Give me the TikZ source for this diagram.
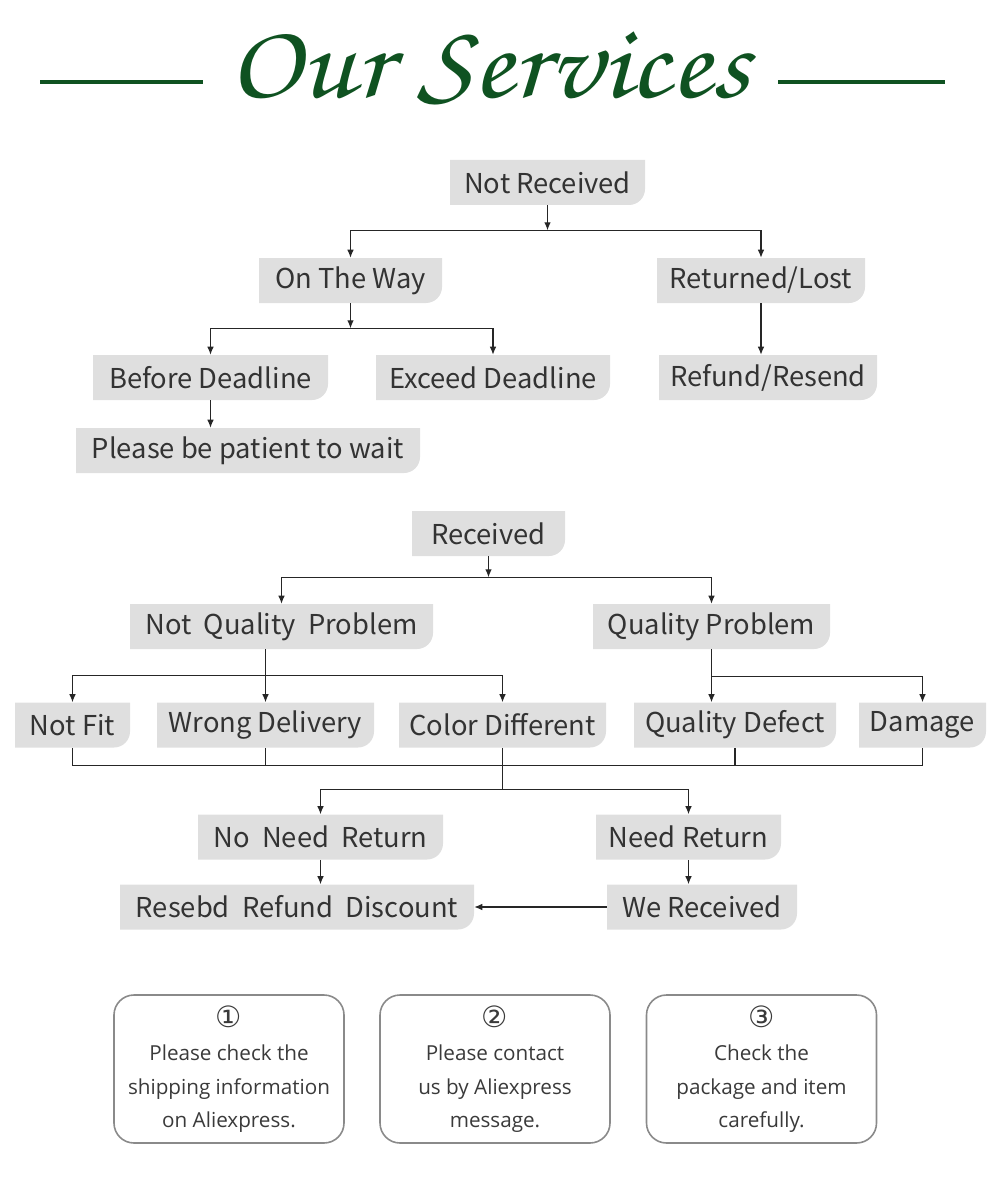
\documentclass[tikz,border=0pt]{standalone}
\usepackage[T1]{fontenc}
\usepackage{fontspec}
\usepackage{graphicx}
\usepackage{tikz}
\usetikzlibrary{arrows.meta,positioning}
\newfontfamily\boxfont{Noto Sans CJK SC}
\newfontfamily\notefont{Open Sans}
\newfontfamily\circfont{DejaVu Sans}
\newcommand\titlefont{\fontencoding{T1}\fontfamily{pzc}\fontseries{mb}\fontshape{it}\selectfont}
\definecolor{boxgray}{HTML}{DFDFDF}
\definecolor{textgray}{HTML}{333333}
\definecolor{notegray}{HTML}{3A3A3A}
\definecolor{titlegreen}{HTML}{0F5221}
\definecolor{framegray}{HTML}{8A8A8A}
\tikzset{
  leaf/.style = {minimum height=33.75pt, inner sep=0pt, text=textgray,
    font=\boxfont\fontsize{20.5}{24}\selectfont,
    path picture={\fill[boxgray] (path picture bounding box.north west)
      -| ([yshift=12pt]path picture bounding box.south east)
      arc[start angle=0, end angle=-90, radius=12pt]
      -- (path picture bounding box.south west) -- cycle;}},
  bw/.style   = {minimum width=#1*0.75pt},
  note/.style = {draw=framegray, line width=1.2pt, rounded corners=15pt,
    minimum width=172.5pt, minimum height=111pt, align=center, text=notegray,
    font=\notefont\fontsize{15.5}{25}\selectfont},
  link/.style = {line width=0.9pt, draw=black!85},
  tip/.style  = {link, -{Latex[length=6pt,width=5pt]}}
}
\begin{document}
\begin{tikzpicture}[x=0.75pt,y=-0.75pt]
    \useasboundingbox (0,0) rectangle (1000,1191);

    % title with the two green rules
    \node[anchor=base, text=titlegreen, font=\titlefont\fontsize{80}{80}\selectfont] (title) at (489,98) {\scalebox{1.12}[1]{Our Services}};
    \draw[titlegreen, line width=3pt] (40,82) -- (203,82) (778,82) -- (945,82);

    % not received, upper tree
    \node[leaf, bw=195] (nr)  at (547.5,182.5) {Not Received};
    \node[leaf, bw=183] (otw) at (350.5,280.5) {On The Way};
    \node[leaf, bw=208] (rl)  at (761,280.5)   {Returned/Lost};
    \node[leaf, bw=235] (bd)  at (210.5,377.5) {Before Deadline};
    \node[leaf, bw=234] (ed)  at (493,377.5)   {Exceed Deadline};
    \node[leaf, bw=218] (rr)  at (768,377.5)   {Refund/Resend};
    \node[leaf, bw=344] (pw)  at (248,450.5)   {Please be patient to wait};

    \draw[tip] (nr.south) -- ++(0,25) coordinate (j1);
    \draw[tip] (j1) -| (otw.north);
    \draw[tip] (j1) -| (rl.north);
    \draw[tip] (otw.south) -- ++(0,25) coordinate (j2);
    \draw[tip] (j2) -| (bd.north);
    \draw[tip] (j2) -| (ed.north);
    \draw[tip] (rl.south) -- (rl.south |- rr.north);
    \draw[tip] (bd.south) -- (bd.south |- pw.north);

    % received, lower tree
    \node[leaf, bw=153] (rc)  at (488.5,533.5) {Received};
    \node[leaf, bw=303] (nqp) at (281.5,626.5) {Not~ Quality~ Problem};
    \node[leaf, bw=237] (qp)  at (711.5,626.5) {Quality Problem};
    \node[leaf, bw=115] (nf)  at (72.5,725)    {Not Fit};
    \node[leaf, bw=217] (wd)  at (265.5,725)   {Wrong Delivery};
    \node[leaf, bw=207] (cd)  at (502.5,725)   {Color Different};
    \node[leaf, bw=202] (qd)  at (735,725)     {Quality Defect};
    \node[leaf, bw=127] (dm)  at (922.5,725)   {Damage};
    \node[leaf, bw=245] (nnr) at (320.5,837)   {No~ Need~ Return};
    \node[leaf, bw=185] (ndr) at (688.5,837)   {Need Return};
    \node[leaf, bw=354] (rrd) at (297,907)     {Resebd~ Refund~ Discount};
    \node[leaf, bw=190] (wr)  at (702,907)     {We Received};

    \draw[tip] (rc.south) -- ++(0,21) coordinate (j3);
    \draw[tip] (j3) -| (nqp.north);
    \draw[tip] (j3) -| (qp.north);

    \draw[tip] (wd.north |- nqp.south) -- (wd.north);
    \path (wd.north) ++(0,-27) coordinate (j4);
    \draw[tip] (j4) -| (nf.north);
    \draw[tip] (j4) -| (cd.north);

    \draw[tip] (qp.south) -- (qp.south |- qd.north);
    \path (qp.south) ++(0,27) coordinate (j5);
    \draw[tip] (j5) -| (dm.north);

    % all five join again
    \foreach \n in {nf,wd,qd,dm}
      \draw[link] (\n.south) -- ++(0,18);
    \path (nf.south) ++(0,18) coordinate (b1);
    \draw[link] (b1) -- (b1 -| dm.south);
    \draw[link] (cd.south) -- ++(0,42) coordinate (j6);
    \draw[tip] (j6) -| (nnr.north);
    \draw[tip] (j6) -| (ndr.north);

    \draw[tip] (nnr.south) -- (nnr.south |- rrd.north);
    \draw[tip] (ndr.south) -- (ndr.south |- wr.north);
    \draw[tip] (wr.west) -- (rrd.east);

    % three notes
    \node[note] (n1) at (229,1069)   {{\circfont\fontsize{22}{25}\selectfont ①}\\Please check the\\shipping information\\on Aliexpress.};
    \node[note] (n2) at (495,1069)   {{\circfont\fontsize{22}{25}\selectfont ②}\\Please contact\\us by Aliexpress\\message.};
    \node[note] (n3) at (761.5,1069) {{\circfont\fontsize{22}{25}\selectfont ③}\\Check the\\package and item\\carefully.};
\end{tikzpicture}
\end{document}
